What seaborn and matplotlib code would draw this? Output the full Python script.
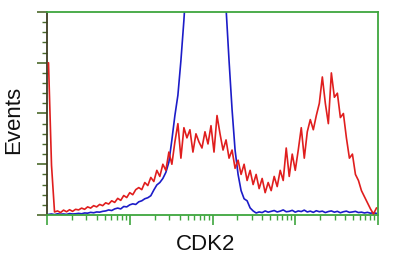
import numpy as np
import pandas as pd
import matplotlib
matplotlib.use("Agg")
import matplotlib.pyplot as plt
from matplotlib.ticker import FixedLocator
import seaborn as sns

# ---- data (histogram counts, 110 log-spaced channels over 4 decades) ----
n_bins = 110
decades = 4

blue_counts = [
    0.3, 0.5, 0.2, 0.6, 0.4, 0.5, 0.3, 0.7, 0.5, 0.6,
    0.8, 0.6, 1.0, 0.9, 1.3, 1.1, 1.5, 1.4, 1.8, 2.0,
    2.5, 2.2, 3.0, 3.4, 3.0, 4.2, 4.0, 5.0, 5.5, 5.2,
    6.5, 7.0, 8.0, 8.5, 9.5, 12.3, 14.8, 16.0, 18.0, 21.0,
    26.0, 37.0, 49.0, 59.0, 76.0, 96.0, 120.0, 150.0, 180.0, 200.0,
    210.0, 220.0, 215.0, 200.0, 190.0, 170.0, 150.0, 130.0, 115.0, 102.0,
    76.0, 52.0, 32.0, 20.0, 12.0, 8.0, 7.0, 3.5, 2.0, 1.0,
    1.5, 1.2, 2.0, 1.4, 1.8, 2.2, 1.5, 1.9, 2.5, 1.6,
    1.8, 2.3, 1.4, 2.0, 1.7, 2.4, 1.5, 1.9, 1.3, 2.1,
    1.6, 1.9, 1.2, 1.7, 2.0, 1.4, 1.8, 1.1, 1.6, 1.9,
    1.3, 1.5, 1.8, 1.2, 1.4, 1.0, 1.3, 0.9, 1.1, 0.8,
]

red_counts = [
    75.0, 24.5, 1.5, 2.0, 1.2, 2.4, 1.6, 2.6, 1.8, 2.8,
    2.5, 3.4, 2.8, 4.0, 3.4, 4.6, 4.0, 5.2, 4.6, 6.0,
    5.4, 7.0, 6.2, 8.2, 7.2, 9.6, 8.6, 11.0, 10.0, 12.5,
    13.5, 12.5, 16.0, 14.5, 18.5, 16.5, 22.0, 19.0, 25.0, 22.0,
    31.0, 25.0, 36.0, 45.0, 28.0, 43.0, 38.0, 42.0, 31.0, 40.0,
    36.0, 33.0, 41.0, 35.0, 44.0, 31.0, 49.0, 40.0, 32.0, 37.0,
    28.0, 32.0, 23.0, 27.0, 20.0, 25.0, 17.0, 22.0, 15.0, 20.0,
    13.0, 18.0, 11.0, 16.0, 12.0, 19.0, 14.0, 22.0, 17.0, 33.0,
    19.0, 30.0, 22.0, 32.0, 43.0, 28.0, 41.0, 47.0, 42.0, 49.0,
    55.0, 68.0, 55.0, 45.0, 70.0, 58.0, 60.0, 48.0, 50.0, 38.0,
    28.0, 30.0, 20.0, 17.0, 12.0, 9.0, 6.0, 3.0, 0.5, 3.5,
]

x_label = "CDK2"
y_label = "Events"
y_max = 100

edges = np.linspace(0, decades, n_bins + 1)   # log10 channel edges
centers = (edges[:-1] + edges[1:]) / 2

blue_df = pd.DataFrame({"pos": centers, "count": blue_counts})
red_df = pd.DataFrame({"pos": centers, "count": red_counts})

# ---- style ----
sns.set_style("white")
plt.rcParams["font.family"] = ["Liberation Sans", "DejaVu Sans"]

spine_green = "#3ea63e"
tick_col = "#4b6a2c"

fig = plt.figure(figsize=(4.0, 2.66), dpi=100)
ax = fig.add_axes([47 / 400, 51 / 266, 331 / 400, 203 / 266])

sns.lineplot(data=blue_df, x="pos", y="count", estimator=None,
             color="#1c1cc8", linewidth=1.2, ax=ax, zorder=2)
sns.lineplot(data=red_df, x="pos", y="count", estimator=None,
             color="#e01e1e", linewidth=1.2, ax=ax, zorder=3)

ax.set_xlim(0, decades)
ax.set_ylim(0, y_max)

# log-style ticks on the decade axis
ax.xaxis.set_major_locator(FixedLocator(np.arange(0, decades + 1)))
minor_x = [d + np.log10(k) for d in range(decades) for k in range(2, 10)]
ax.xaxis.set_minor_locator(FixedLocator(minor_x))
ax.yaxis.set_major_locator(FixedLocator(np.linspace(0, y_max, 5)))
ax.yaxis.set_minor_locator(FixedLocator(np.arange(0, y_max + 1, 5)))

ax.tick_params(axis="both", which="both", direction="out",
               labelbottom=False, labelleft=False, color=tick_col)
ax.tick_params(axis="both", which="major", length=7, width=1.2, bottom=True, left=True)
ax.tick_params(axis="both", which="minor", length=3.5, width=1.0, bottom=True, left=True)
ax.tick_params(axis="x", which="both", color=spine_green)

for side in ["top", "right", "bottom"]:
    ax.spines[side].set_color(spine_green)
    ax.spines[side].set_linewidth(1.3)
ax.spines["left"].set_color("#3c3c22")
ax.spines["left"].set_linewidth(1.3)

ax.set_xlabel(x_label, fontsize=16, color="#111111")
ax.set_ylabel(y_label, fontsize=16, color="#111111")
ax.xaxis.set_label_coords(0.478, -0.095)
ax.yaxis.set_label_coords(-0.068, 0.47)

fig.savefig("out.png", dpi=100, facecolor="white")
